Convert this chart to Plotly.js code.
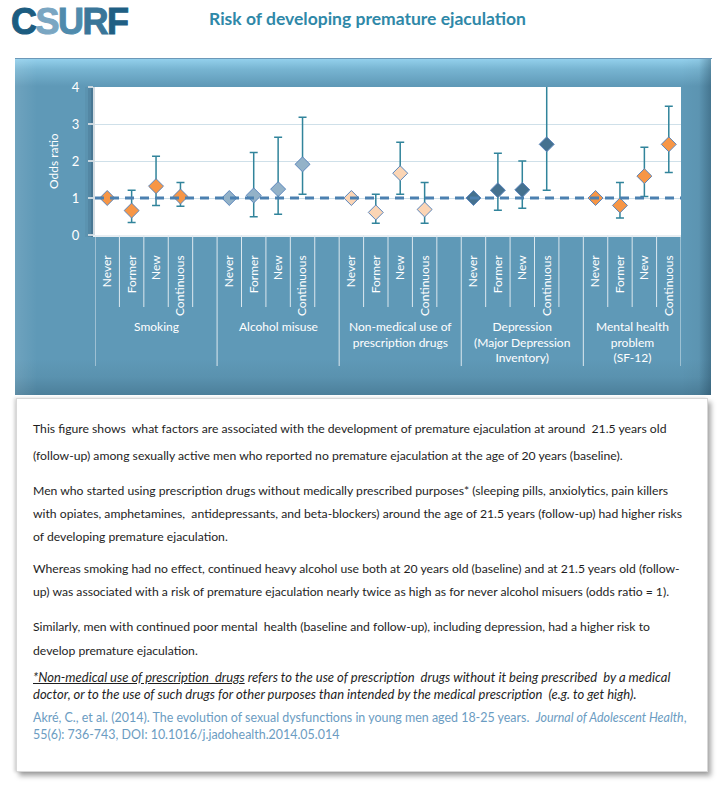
<!DOCTYPE html>
<html>
<head>
<meta charset="utf-8">
<script src="https://cdn.plot.ly/plotly-3.0.1.min.js"></script>
<style>
  html, body { margin:0; padding:0; background:#ffffff; width:727px; height:786px; overflow:hidden; }
  #logo { position:absolute; left:11px; top:2px; font-family:"Liberation Sans", Arial, sans-serif; font-weight:bold; font-size:36px; letter-spacing:-1.5px; line-height:40px; -webkit-text-stroke:1px currentColor; }
  #title { position:absolute; left:0; width:735px; top:8px; text-align:center; font-family:Lato, sans-serif; font-weight:bold; font-size:17.5px; color:#2F88A8; }
  #hline { position:absolute; left:15px; top:58px; width:697px; height:1px; background:#6C98B8; }
  #panel { position:absolute; left:15px; top:59px; width:696px; height:336px;
    background: linear-gradient(to bottom, #93D0EC 0px, #78B5D2 10px, #5F99B7 27px, #5F99B7 300px, #5A92AF 318px, #4C7F9A 336px); }
  #panelR { position:absolute; left:681px; top:59px; width:30px; height:336px;
    background: linear-gradient(to right, rgba(0,0,0,0) 0px, rgba(0,0,0,0.03) 18px, rgba(20,50,70,0.35) 30px); }
  #panelL { position:absolute; left:15px; top:59px; width:22px; height:336px;
    background: linear-gradient(to right, rgba(255,255,255,0.10) 0px, rgba(255,255,255,0) 22px); }
  #chart { position:absolute; left:15px; top:59px; width:696px; height:336px; }
  #box { position:absolute; left:16px; top:398px; width:690px; height:372px; background:#ffffff;
    border:1px solid #D8D8D8; box-shadow: 3px 4px 5px rgba(0,0,0,0.35), -2px 0 3px rgba(0,0,0,0.15); }
  .ln { position:absolute; left:33px; white-space:nowrap; font-family:Lato, sans-serif; font-size:12.2px; color:#1E1E1E; }
  .it { font-style:italic; font-size:13px; }
  .cit { color:#6B9CC2; font-size:12.45px; }
</style>
</head>
<body>
<div id="logo"><span style="color:#1C5C80">C</span><span style="color:#7AA6C2">S</span><span style="color:#4F8BAD">U</span><span style="color:#3A7699">R</span><span style="color:#1F5F84">F</span></div>
<div id="title">Risk of developing premature ejaculation</div>
<div id="hline"></div>
<div id="panel"></div>
<div id="panelL"></div>
<div id="panelR"></div>
<div id="chart"></div>
<div id="box"></div>
<div class="ln" style="top:421px">This figure shows&nbsp; what factors are associated with the development of premature ejaculation at around&nbsp; 21.5 years old</div>
<div class="ln" style="top:448px">(follow-up) among sexually active men who reported no premature ejaculation at the age of 20 years (baseline).</div>
<div class="ln" style="top:483px">Men who started using prescription drugs without medically prescribed purposes* (sleeping pills, anxiolytics, pain killers</div>
<div class="ln" style="top:506px">with opiates, amphetamines,&nbsp; antidepressants, and beta-blockers) around the age of 21.5 years (follow-up) had higher risks</div>
<div class="ln" style="top:529px">of developing premature ejaculation.</div>
<div class="ln" style="top:561px">Whereas smoking had no effect, continued heavy alcohol use both at 20 years old (baseline) and at 21.5 years old (follow-</div>
<div class="ln" style="top:584px">up) was associated with a risk of premature ejaculation nearly twice as high as for never alcohol misuers (odds ratio = 1).</div>
<div class="ln" style="top:619px">Similarly, men with continued poor mental&nbsp; health (baseline and follow-up), including depression, had a higher risk to</div>
<div class="ln" style="top:643px">develop premature ejaculation.</div>
<div class="ln it" style="top:669px"><u>*Non-medical use of prescription&nbsp; drugs</u> refers to the use of prescription&nbsp; drugs without it being prescribed&nbsp; by a medical</div>
<div class="ln it" style="top:686px">doctor, or to the use of such drugs for other purposes than intended by the medical prescription&nbsp; (e.g. to get high).</div>
<div class="ln cit" style="top:710px">Akré, C., et al. (2014). The evolution of sexual dysfunctions in young men aged 18-25 years.&nbsp; <i>Journal of Adolescent Health</i>,</div>
<div class="ln cit" style="top:727px">55(6): 736-743, DOI: 10.1016/j.jadohealth.2014.05.014</div>

<script>
// ---- data ----
var categories = ["Never", "Former", "New", "Continuous"];
var groups = ["Smoking", "Alcohol misuse", "Non-medical use of<br>prescription drugs",
              "Depression<br>(Major Depression<br>Inventory)", "Mental health<br>problem<br>(SF-12)"];
var yTicks = [0, 1, 2, 3, 4];
var referenceOR = 1;

var smokingOR   = [1.00, 0.66, 1.32, 1.04];
var smokingLow  = [null, 0.34, 0.80, 0.78];
var smokingHigh = [null, 1.21, 2.13, 1.42];

var alcoholOR   = [1.00, 1.07, 1.24, 1.91];
var alcoholLow  = [null, 0.49, 0.56, 1.10];
var alcoholHigh = [null, 2.23, 2.64, 3.18];

var drugsOR   = [1.00, 0.61, 1.67, 0.69];
var drugsLow  = [null, 0.32, 1.10, 0.32];
var drugsHigh = [null, 1.10, 2.51, 1.42];

var depressionOR   = [1.00, 1.21, 1.22, 2.45];
var depressionLow  = [null, 0.67, 0.72, 1.21];
var depressionHigh = [null, 2.21, 2.00, 4.60];

var mentalOR   = [1.00, 0.80, 1.59, 2.45];
var mentalLow  = [null, 0.46, 1.04, 1.69];
var mentalHigh = [null, 1.42, 2.37, 3.48];

var groupColors = ["#F79646", "#93B2C8", "#FBD5B5", "#45718F", "#F79646"];

// ---- build ----
var series = [
  [smokingOR, smokingLow, smokingHigh],
  [alcoholOR, alcoholLow, alcoholHigh],
  [drugsOR, drugsLow, drugsHigh],
  [depressionOR, depressionLow, depressionHigh],
  [mentalOR, mentalLow, mentalHigh]
];
var slot = 5; // 4 categories + 1 spacer per group
var nSlots = groups.length * slot - 1;

var traces = [];
var tickvals = [], ticktext = [];
series.forEach(function (s, g) {
  var xs = categories.map(function (c, i) { return g * slot + i + 0.5; });
  xs.forEach(function (x, i) { tickvals.push(x); ticktext.push(categories[i]); });
  traces.push({
    type: "scatter", mode: "markers", x: xs, y: s[0],
    marker: { symbol: "diamond", size: 11.5, color: groupColors[g], line: { color: "#5B86BC", width: 1 } },
    error_y: {
      type: "data", symmetric: false,
      array: s[0].map(function (v, i) { return s[2][i] == null ? null : s[2][i] - v; }),
      arrayminus: s[0].map(function (v, i) { return s[1][i] == null ? null : v - s[1][i]; }),
      color: "#31849B", thickness: 1.5, width: 4
    },
    hoverinfo: "skip", showlegend: false
  });
});

var PB = 148; // plot height in px, used for paper fractions
var shapes = [];
for (var b = 0; b <= nSlots; b++) {
  var isGroup = (b % slot === 0) || b === nSlots;
  shapes.push({ type: "line", xref: "x", yref: "paper", x0: b, x1: b, y0: 0,
    y1: isGroup ? -131 / PB : -72 / PB, line: { color: "#DCE8EF", width: 1 } });
}
// plot-area left shadow
[[0.16, 4], [0.10, 7], [0.05, 10]].forEach(function (p) {
  shapes.push({ type: "rect", xref: "paper", yref: "paper", x0: -p[1] / 586, x1: 0, y0: -2 / PB, y1: 1,
    fillcolor: "rgba(20,40,60," + p[0] + ")", line: { width: 0 }, layer: "below" });
});
// reference line OR = 1
shapes.push({ type: "line", xref: "paper", yref: "y", x0: 0, x1: 1, y0: referenceOR, y1: referenceOR,
  line: { color: "#4B80B0", width: 3, dash: "9px,6px" }, layer: "above" });

var annotations = groups.map(function (gname, g) {
  return { xref: "x", yref: "paper", x: g * slot + 2.5 - (g === groups.length - 1 ? 0.5 : 0), y: -82 / PB,
    xanchor: "center", yanchor: "top", text: gname, showarrow: false,
    font: { family: "Lato, sans-serif", size: 12, color: "#FFFFFF" } };
});
annotations.push({ xref: "paper", yref: "paper", x: -42 / 586, y: 0.5, textangle: -90,
  xanchor: "center", yanchor: "middle", text: "Odds ratio", showarrow: false,
  font: { family: "Lato, sans-serif", size: 12, color: "#FFFFFF" } });

var layout = {
  width: 696, height: 336,
  margin: { l: 80, r: 30, t: 28, b: 160 },
  paper_bgcolor: "rgba(0,0,0,0)", plot_bgcolor: "#FFFFFF",
  showlegend: false,
  font: { family: "Lato, sans-serif", color: "#FFFFFF" },
  xaxis: {
    range: [0, nSlots], tickvals: tickvals, ticktext: ticktext, tickangle: -90,
    showgrid: false, zeroline: false, showline: true, linecolor: "#E8EEF2", linewidth: 1.5,
    ticks: "", ticklabelstandoff: 14, tickfont: { size: 12, color: "#FFFFFF" }, fixedrange: true
  },
  yaxis: {
    range: [0, 4], tickvals: yTicks, showgrid: true, gridcolor: "#CFE0E9", gridwidth: 1,
    zeroline: false, showline: true, linecolor: "#D3DCE2", linewidth: 2,
    ticks: "outside", ticklen: 5, tickcolor: "#C9D6DE", tickwidth: 2, ticklabelstandoff: 6,
    tickfont: { size: 13, color: "#FFFFFF" }, fixedrange: true
  },
  shapes: shapes,
  annotations: annotations
};

Plotly.newPlot("chart", traces, layout, { staticPlot: true, displayModeBar: false });
</script>
</body>
</html>
